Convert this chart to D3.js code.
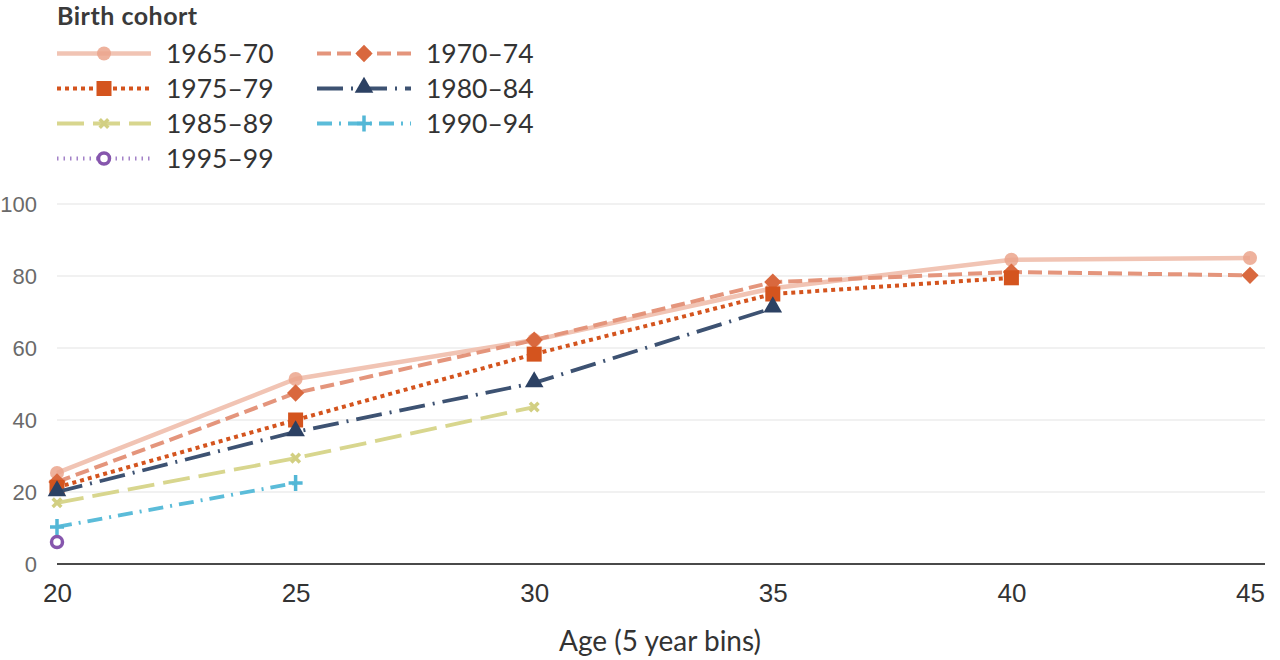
<!DOCTYPE html>
<html>
<head>
<meta charset="utf-8">
<script src="https://cdn.jsdelivr.net/npm/d3@7"></script>
<style>
  body { margin: 0; background: #fff; }
  svg { font-family: Lato, "Open Sans", sans-serif; }
</style>
</head>
<body>
<div id="chart-container"></div>
<script>
const ages = [20, 25, 30, 35, 40, 45];
const yTicks = [0, 20, 40, 60, 80, 100];
const cohorts = ['1965–70', '1970–74', '1975–79', '1980–84', '1985–89', '1990–94', '1995–99'];

const c1965 = [25.3, 51.4, 62.2, 76.6, 84.5, 85.0];
const c1970 = [22.8, 47.5, 62.2, 78.3, 81.1, 80.2];
const c1975 = [21.3, 40.0, 58.3, 75.0, 79.5];
const c1980 = [20.0, 36.7, 50.3, 71.1];
const c1985 = [17.0, 29.4, 43.6];
const c1990 = [10.3, 22.5];
const c1995 = [6.1];

window.onload = () => {
  const width = 1280;
  const height = 660;

  const styles = [
    { line: '#f1c4b4', marker: '#eba48c', dash: null, w: 4.5, sym: 'circle' },
    { line: '#e4957c', marker: '#d9683e', dash: '14,6', w: 4, sym: 'diamond' },
    { line: '#d4541e', marker: '#d4541e', dash: '4,4', w: 4, sym: 'square' },
    { line: '#3d5272', marker: '#2c4163', dash: '26,8,2,8', w: 3.8, sym: 'triangle' },
    { line: '#d8d68e', marker: '#d2cf82', dash: '27,9', w: 3.8, sym: 'cross' },
    { line: '#5bbcd9', marker: '#53b7d6', dash: '15,7,2,7', w: 3.8, sym: 'plus' },
    { line: '#a382c8', marker: '#8656ad', dash: '1.5,5', w: 4, sym: 'ring' }
  ];
  const series = [c1965, c1970, c1975, c1980, c1985, c1990, c1995];

  const x = d3.scaleLinear().domain([20, 45]).range([57, 1250]);
  const y = d3.scaleLinear().domain([0, 100]).range([564, 204]);

  const svg = d3.select('#chart-container').append('svg')
    .attr('width', width)
    .attr('height', height);

  // grid
  svg.append('g')
    .selectAll('line')
    .data(yTicks.filter(d => d > 0))
    .enter()
    .append('line')
    .attr('x1', 57).attr('x2', 1265)
    .attr('y1', d => y(d)).attr('y2', d => y(d))
    .attr('stroke', '#e3e3e3')
    .attr('stroke-width', 1.2);

  // y axis labels
  const yAxis = d3.axisLeft(y).tickValues(yTicks).tickSize(0).tickPadding(0);
  const gy = svg.append('g').attr('transform', 'translate(37,0)').call(yAxis);
  gy.select('.domain').remove();
  gy.selectAll('text')
    .style('font-size', '22px')
    .attr('fill', '#6a6a6a')
    .attr('dy', '0.35em');

  // baseline
  svg.append('line')
    .attr('x1', 57).attr('x2', 1265)
    .attr('y1', y(0)).attr('y2', y(0))
    .attr('stroke', '#4a4a4a')
    .attr('stroke-width', 2);

  // x axis labels
  const xAxis = d3.axisBottom(x).tickValues(ages).tickSize(0).tickPadding(0);
  const gx = svg.append('g').attr('transform', 'translate(0,584)').call(xAxis);
  gx.select('.domain').remove();
  gx.selectAll('text')
    .style('font-size', '26px')
    .attr('fill', '#333')
    .attr('dy', '0.71em');

  svg.append('text')
    .attr('x', 660).attr('y', 651)
    .attr('text-anchor', 'middle')
    .style('font-size', '28px')
    .attr('fill', '#333')
    .text('Age (5 year bins)');

  const line = d3.line()
    .x((d, i) => x(ages[i]))
    .y(d => y(d));

  function drawMarker(g, st, cx, cy) {
    if (st.sym === 'circle') {
      g.append('circle').attr('cx', cx).attr('cy', cy).attr('r', 7)
        .attr('fill', st.marker).attr('fill-opacity', 0.85);
    } else if (st.sym === 'diamond') {
      g.append('path').attr('d', d3.symbol(d3.symbolDiamond2, 190)())
        .attr('transform', `translate(${cx},${cy})`)
        .attr('fill', st.marker);
    } else if (st.sym === 'square') {
      g.append('rect').attr('x', cx - 7.5).attr('y', cy - 7.5).attr('width', 15).attr('height', 15)
        .attr('fill', st.marker);
    } else if (st.sym === 'triangle') {
      g.append('path').attr('d', d3.symbol(d3.symbolTriangle, 150)())
        .attr('transform', `translate(${cx},${cy - 1})`)
        .attr('fill', st.marker);
    } else if (st.sym === 'cross') {
      g.append('path').attr('d', d3.symbol(d3.symbolX, 50)())
        .attr('transform', `translate(${cx},${cy})`)
        .attr('stroke', st.marker).attr('stroke-width', 3.5).attr('fill', 'none');
    } else if (st.sym === 'plus') {
      g.append('path').attr('d', `M${cx - 7},${cy}H${cx + 7}M${cx},${cy - 8}V${cy + 8}`)
        .attr('stroke', st.marker).attr('stroke-width', 3.5).attr('fill', 'none');
    } else if (st.sym === 'ring') {
      g.append('circle').attr('cx', cx).attr('cy', cy).attr('r', 5.5)
        .attr('fill', '#fff').attr('stroke', st.marker).attr('stroke-width', 3.5);
    }
  }

  // series
  series.forEach((vals, s) => {
    const st = styles[s];
    const g = svg.append('g');
    if (vals.length > 1) {
      g.append('path')
        .datum(vals)
        .attr('d', line)
        .attr('fill', 'none')
        .attr('stroke', st.line)
        .attr('stroke-width', st.w)
        .attr('stroke-dasharray', st.dash);
    }
    vals.forEach((v, i) => drawMarker(g, st, x(ages[i]), y(v)));
  });

  // legend
  svg.append('text')
    .attr('x', 57).attr('y', 25)
    .style('font-size', '25px')
    .style('font-weight', 'bold')
    .style('letter-spacing', '0.5px')
    .attr('fill', '#3a3a3a')
    .text('Birth cohort');

  cohorts.forEach((name, s) => {
    const st = styles[s];
    const col = s % 2;
    const row = Math.floor(s / 2);
    const lx = col === 0 ? 57 : 317;
    const ly = 53.5 + row * 35;
    const g = svg.append('g');
    g.append('line')
      .attr('x1', lx).attr('x2', lx + 94)
      .attr('y1', ly).attr('y2', ly)
      .attr('stroke', st.line)
      .attr('stroke-width', st.w)
      .attr('stroke-dasharray', st.dash);
    drawMarker(g, st, lx + 47, ly);
    g.append('text')
      .attr('x', lx + 109).attr('y', ly)
      .attr('dy', '0.36em')
      .style('font-size', '26.5px')
      .attr('fill', '#333')
      .text(name);
  });
}
</script>
</body>
</html>
